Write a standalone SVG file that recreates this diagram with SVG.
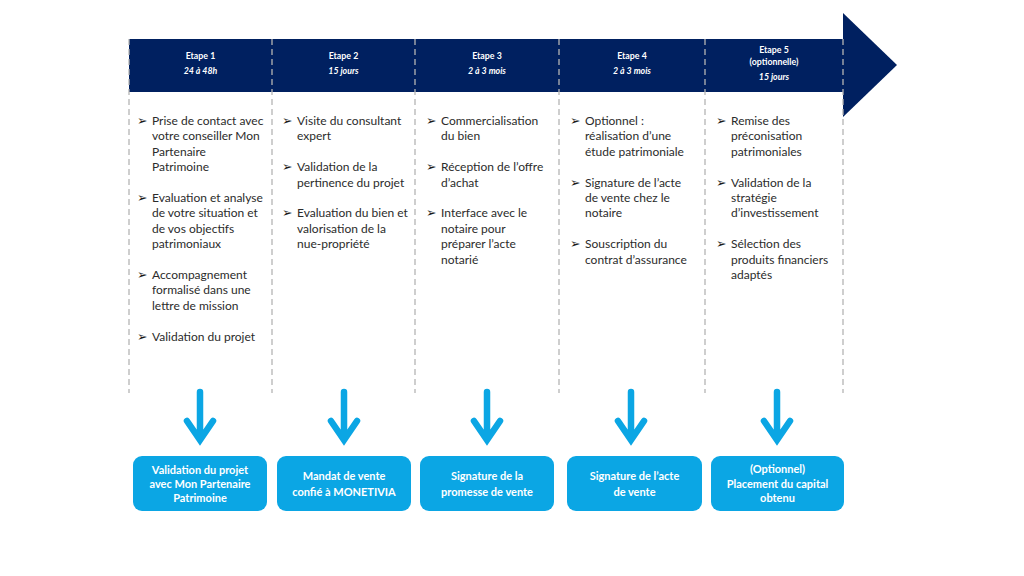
<svg xmlns="http://www.w3.org/2000/svg" width="1024" height="576" viewBox="0 0 1024 576">
<defs>
<style>
.hd{font-family:Lato,"Liberation Sans",sans-serif;font-size:8.8px;font-weight:bold;fill:#ffffff;text-anchor:middle}
.hi{font-style:italic}
.tx{font-family:Lato,"Liberation Sans",sans-serif;font-size:12px;fill:#2b2b2b}
.bl{font-family:"DejaVu Sans",sans-serif;font-size:12.5px;fill:#1a1a1a}
.bx{fill:#0ba6e4}
.bt{font-family:Lato,"Liberation Sans",sans-serif;font-size:11px;font-weight:bold;fill:#ffffff;text-anchor:middle}
.dash{stroke:#b4b4b4;stroke-width:1.3;stroke-dasharray:6 4;fill:none}
.arr{stroke:#0ba6e4;stroke-width:6.5;fill:none;stroke-linecap:round;stroke-linejoin:miter}
</style>
</defs>
<rect width="1024" height="576" fill="#ffffff"/>
<g id="banner">
<rect x="129" y="39" width="715" height="53" fill="#002060"/>
<polygon points="843,13 897,65 843,117" fill="#002060"/>
</g>
<g id="separators">
<line class="dash" x1="129" y1="39" x2="129" y2="393"/>
<line class="dash" x1="272" y1="39" x2="272" y2="393"/>
<line class="dash" x1="415" y1="39" x2="415" y2="393"/>
<line class="dash" x1="559" y1="39" x2="559" y2="393"/>
<line class="dash" x1="705" y1="39" x2="705" y2="393"/>
<line class="dash" x1="843" y1="39" x2="843" y2="393"/>
</g>
<g id="step1">
<text class="hd" x="200.5" y="59">Etape 1</text>
<text class="hd hi" x="200.5" y="74">24 à 48h</text>
<text class="bl" x="137" y="125">➢</text><text class="tx" x="152" y="125">Prise de contact avec</text>
<text class="tx" x="152" y="140.4">votre conseiller Mon</text>
<text class="tx" x="152" y="155.8">Partenaire</text>
<text class="tx" x="152" y="171.2">Patrimoine</text>
<text class="bl" x="137" y="202">➢</text><text class="tx" x="152" y="202">Evaluation et analyse</text>
<text class="tx" x="152" y="217.4">de votre situation et</text>
<text class="tx" x="152" y="232.8">de vos objectifs</text>
<text class="tx" x="152" y="248.2">patrimoniaux</text>
<text class="bl" x="137" y="279">➢</text><text class="tx" x="152" y="279">Accompagnement</text>
<text class="tx" x="152" y="294.4">formalisé dans une</text>
<text class="tx" x="152" y="309.8">lettre de mission</text>
<text class="bl" x="137" y="340.6">➢</text><text class="tx" x="152" y="340.6">Validation du projet</text>
</g>
<g id="step2">
<text class="hd" x="343.5" y="59">Etape 2</text>
<text class="hd hi" x="343.5" y="74">15 jours</text>
<text class="bl" x="282" y="125">➢</text><text class="tx" x="297" y="125">Visite du consultant</text>
<text class="tx" x="297" y="140.4">expert</text>
<text class="bl" x="282" y="171.2">➢</text><text class="tx" x="297" y="171.2">Validation de la</text>
<text class="tx" x="297" y="186.6">pertinence du projet</text>
<text class="bl" x="282" y="217.4">➢</text><text class="tx" x="297" y="217.4">Evaluation du bien et</text>
<text class="tx" x="297" y="232.8">valorisation de la</text>
<text class="tx" x="297" y="248.2">nue-propriété</text>
</g>
<g id="step3">
<text class="hd" x="487" y="59">Etape 3</text>
<text class="hd hi" x="487" y="74">2 à 3 mois</text>
<text class="bl" x="426" y="125">➢</text><text class="tx" x="441" y="125">Commercialisation</text>
<text class="tx" x="441" y="140.4">du bien</text>
<text class="bl" x="426" y="171.2">➢</text><text class="tx" x="441" y="171.2">Réception de l’offre</text>
<text class="tx" x="441" y="186.6">d’achat</text>
<text class="bl" x="426" y="217.4">➢</text><text class="tx" x="441" y="217.4">Interface avec le</text>
<text class="tx" x="441" y="232.8">notaire pour</text>
<text class="tx" x="441" y="248.2">préparer l’acte</text>
<text class="tx" x="441" y="263.6">notarié</text>
</g>
<g id="step4">
<text class="hd" x="632" y="59">Etape 4</text>
<text class="hd hi" x="632" y="74">2 à 3 mois</text>
<text class="bl" x="570" y="125">➢</text><text class="tx" x="585" y="125">Optionnel :</text>
<text class="tx" x="585" y="140.4">réalisation d’une</text>
<text class="tx" x="585" y="155.8">étude patrimoniale</text>
<text class="bl" x="570" y="186.6">➢</text><text class="tx" x="585" y="186.6">Signature de l’acte</text>
<text class="tx" x="585" y="202">de vente chez le</text>
<text class="tx" x="585" y="217.4">notaire</text>
<text class="bl" x="570" y="248.2">➢</text><text class="tx" x="585" y="248.2">Souscription du</text>
<text class="tx" x="585" y="263.6">contrat d’assurance</text>
</g>
<g id="step5">
<text class="hd" x="774" y="53">Etape 5</text>
<text class="hd" x="774" y="65">(optionnelle)</text>
<text class="hd hi" x="774" y="80">15 jours</text>
<text class="bl" x="716" y="125">➢</text><text class="tx" x="731" y="125">Remise des</text>
<text class="tx" x="731" y="140.4">préconisation</text>
<text class="tx" x="731" y="155.8">patrimoniales</text>
<text class="bl" x="716" y="186.6">➢</text><text class="tx" x="731" y="186.6">Validation de la</text>
<text class="tx" x="731" y="202">stratégie</text>
<text class="tx" x="731" y="217.4">d’investissement</text>
<text class="bl" x="716" y="248.2">➢</text><text class="tx" x="731" y="248.2">Sélection des</text>
<text class="tx" x="731" y="263.6">produits financiers</text>
<text class="tx" x="731" y="279">adaptés</text>
</g>
<g id="connectors">
<path class="arr" d="M200 392V438M187 421L200 440L213 421"/>
<path class="arr" d="M344 392V438M331 421L344 440L357 421"/>
<path class="arr" d="M487 392V438M474 421L487 440L500 421"/>
<path class="arr" d="M631 392V438M618 421L631 440L644 421"/>
<path class="arr" d="M777 392V438M764 421L777 440L790 421"/>
</g>
<g id="outcome1">
<rect class="bx" x="133" y="456" width="134" height="55" rx="9"/>
<text class="bt" x="200" y="473.5">Validation du projet</text>
<text class="bt" x="200" y="487.5">avec Mon Partenaire</text>
<text class="bt" x="200" y="501.5">Patrimoine</text>
</g>
<g id="outcome2">
<rect class="bx" x="277" y="456" width="134" height="55" rx="9"/>
<text class="bt" x="344" y="479.5">Mandat de vente</text>
<text class="bt" x="344" y="496">confié à MONETIVIA</text>
</g>
<g id="outcome3">
<rect class="bx" x="420" y="456" width="134" height="55" rx="9"/>
<text class="bt" x="487" y="479.5">Signature de la</text>
<text class="bt" x="487" y="496">promesse de vente</text>
</g>
<g id="outcome4">
<rect class="bx" x="567" y="456" width="135" height="55" rx="9"/>
<text class="bt" x="634.5" y="479.5">Signature de l’acte</text>
<text class="bt" x="634.5" y="496">de vente</text>
</g>
<g id="outcome5">
<rect class="bx" x="711" y="456" width="133" height="55" rx="9"/>
<text class="bt" x="777.5" y="473">(Optionnel)</text>
<text class="bt" x="777.5" y="487.5">Placement du capital</text>
<text class="bt" x="777.5" y="502">obtenu</text>
</g>
</svg>
